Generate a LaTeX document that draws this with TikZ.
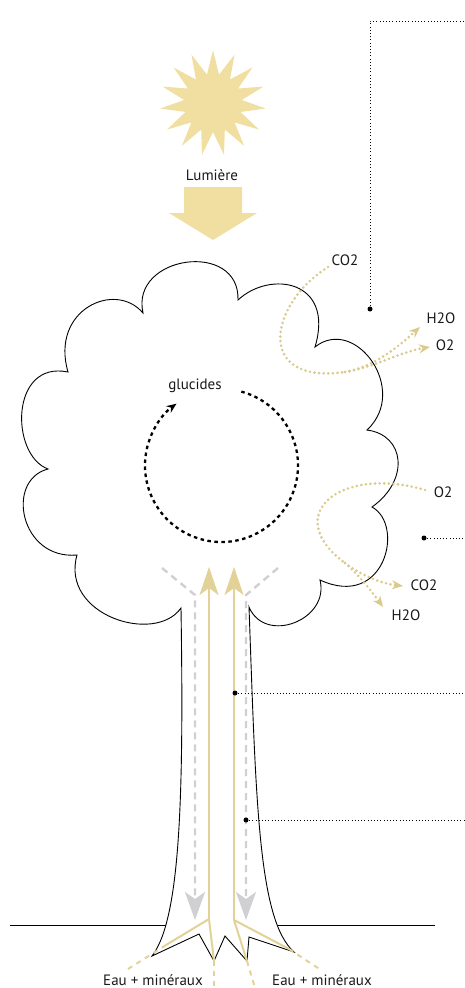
\documentclass[tikz,border=0pt]{standalone}
\usepackage{fontspec}
\setmainfont{PT Sans}
\usepackage{xcolor}
\usetikzlibrary{arrows.meta}

\definecolor{sunfill}{RGB}{240,223,160}
\definecolor{sapcol}{RGB}{226,210,152}
\definecolor{gascol}{RGB}{218,202,140}
\definecolor{flowgrey}{RGB}{208,208,210}

\begin{document}
\begin{tikzpicture}[x=1pt, y=-1pt,
        outline/.style={black, line width=0.9pt},
        sapup/.style={sapcol, line width=2pt, -{Stealth[length=28pt, width=19pt, inset=7pt]}},
        sapdown/.style={flowgrey, line width=2.4pt, dash pattern=on 7pt off 5pt, -{Stealth[length=28pt, width=20pt, inset=7pt]}},
        sapsolid/.style={sapcol, line width=2pt},
        rootline/.style={sapcol, line width=2pt, dash pattern=on 5pt off 5pt},
        gasline/.style={gascol, line width=2.9pt, dash pattern=on 0pt off 4.6pt, line cap=round, -{Stealth[length=11pt, width=9pt]}},
        cycleline/.style={black, line width=2.3pt, dash pattern=on 3.5pt off 3.5pt, -{Stealth[length=10pt, width=8pt]}},
        leader/.style={black, line width=0.8pt, dash pattern=on 0.8pt off 2.4pt},
        pin/.style={circle, fill=black, inner sep=0pt, minimum size=5pt},
        lbl/.style={font=\fontsize{15}{17}\selectfont, text=black!90, inner sep=0pt},
    ]
    \useasboundingbox (0,0) rectangle (464,988);
    %Ground
    \draw[outline] (10,925) -- (435,925);
    %Tree
    \filldraw[outline, fill=white] (181,608)
        .. controls (155,645) and (60,615) .. (77,555)
        .. controls (20,560) and (5,480) .. (48,469)
        .. controls (10,455) and (10,360) .. (68,372)
        .. controls (50,310) and (115,280) .. (143,313)
        .. controls (130,255) and (240,240) .. (238,300)
        .. controls (270,270) and (335,280) .. (315,347)
        .. controls (355,315) and (410,390) .. (367,430)
        .. controls (405,435) and (410,480) .. (372,507)
        .. controls (405,525) and (385,610) .. (320,580)
        .. controls (330,620) and (265,645) .. (249,607)
        .. controls (256,800) and (258,920) .. (294,952)
        -- (249,937) -- (247,961) -- (225,936) -- (214,961) -- (199,934) -- (152,956)
        .. controls (180,920) and (184,800) .. (181,608) -- cycle;
    %Sun
    \coordinate (sun) at (213,103);
    \fill[sunfill, shift={(sun)}] (-90:53)
        \foreach \k in {0,...,14} { -- (-90+24*\k:53) -- (-78+24*\k:29) } -- cycle;
    \fill[sunfill] (184,187) -- (242,187) -- (242,213) -- (257,213) -- (213,240) -- (169,213) -- (184,213) -- cycle;
    %Nodes
    \node[lbl] (lumiere) at (212,175) {Lumière};
    \node[lbl] (glucides) at (195,386) {glucides};
    \node[lbl] (co2top) at (345,260) {CO2};
    \node[lbl] (h2otop) at (441,318) {H2O};
    \node[lbl] (o2top) at (445,345) {O2};
    \node[lbl] (o2low) at (443,492) {O2};
    \node[lbl] (co2low) at (424,585) {CO2};
    \node[lbl] (h2olow) at (406,615) {H2O};
    \node[lbl, anchor=base] (eauleft) at (153,985) {Eau + minéraux};
    \node[lbl, anchor=base] (eauright) at (322,985) {Eau + minéraux};
    %Coordinates
    \coordinate (glc) at (221.5,465.5);
    \coordinate (co2in) at (328,267);
    \coordinate (gassplit) at (345,372);
    \coordinate (h2oout) at (420,327);
    \coordinate (o2out) at (430,347);
    \coordinate (o2in) at (425,490);
    \coordinate (gassplitlow) at (345,563);
    \coordinate (co2out) at (403,586);
    \coordinate (h2ooutlow) at (383,607);
    \coordinate (xylemL) at (209,919);
    \coordinate (xylemR) at (234,920);
    %Glucides cycle
    \draw[cycleline] ([shift={(-75:76.5)}]glc) arc[start angle=-75, end angle=234, radius=76.5];
    %Gas exchange
    \draw[gasline, -] (co2in) .. controls (268,305) and (255,385) .. (gassplit);
    \draw[gasline] (gassplit) .. controls (375,367) and (400,345) .. (h2oout);
    \draw[gasline] (gassplit) .. controls (375,367) and (400,352) .. (o2out);
    \draw[gasline, -] (o2in) .. controls (340,465) and (280,515) .. (gassplitlow);
    \draw[gasline] (gassplitlow) .. controls (365,578) and (385,584) .. (co2out);
    \draw[gasline] (gassplitlow) .. controls (360,576) and (372,592) .. (h2ooutlow);
    %Sap flows
    \draw[sapdown] (162,568) -- (195,595) -- (195,920);
    \draw[sapdown] (278,568) -- (246,595) -- (246,920);
    \draw[sapup] (xylemL) -- (209,567);
    \draw[sapup] (xylemR) -- (234,567);
    \draw[sapsolid] (xylemL) -- (166,945);
    \draw[rootline] (166,945) -- (128,969);
    \draw[sapsolid] (xylemL) -- (214,961);
    \draw[rootline] (214,961) -- (214,988);
    \draw[sapsolid] (xylemR) -- (247,961);
    \draw[rootline] (247,961) -- (255,988);
    \draw[sapsolid] (xylemR) -- (289,949);
    \draw[rootline] (289,949) -- (321,970);
    %Leaders
    \node[pin] (pinphoto) at (370,309) {};
    \node[pin] (pinresp) at (424,538) {};
    \node[pin] (pinxylem) at (235,693) {};
    \node[pin] (pinphloem) at (246,820) {};
    \draw[leader] (pinphoto.center) -- (370,21) -- (464,21);
    \draw[leader] (pinresp.center) -- (464,538);
    \draw[leader] (pinxylem.center) -- (464,693);
    \draw[leader] (pinphloem.center) -- (464,820);
\end{tikzpicture}
\end{document}
